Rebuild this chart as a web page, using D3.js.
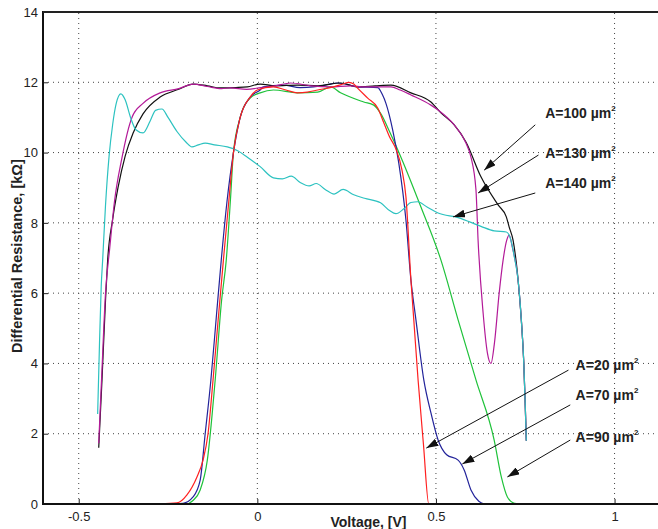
<!DOCTYPE html>
<html>
<head>
<meta charset="utf-8">
<script src="https://cdn.jsdelivr.net/npm/d3@7"></script>
<style>
  body { margin: 0; background: #fff; }
  svg text { font-family: "Liberation Sans", Arial, Helvetica, sans-serif; }
</style>
</head>
<body>
<div id="chartcanvas"></div>
<script>
// ******** DATA (voltage [V], differential resistance [kOhm]) */
const xTicks = [-0.5, 0, 0.5, 1]
const yTicks = [0, 2, 4, 6, 8, 10, 12, 14]

const a100 = [[-0.444,1.6],[-0.435,3.5],[-0.425,5.8],[-0.419,6.94],[-0.405,8.1],[-0.39,9.0],[-0.37,9.9],[-0.348,10.55],[-0.32,11.1],[-0.272,11.58],[-0.22,11.8],[-0.18,11.95],[-0.14,11.9],[-0.104,11.84],[-0.06,11.85],[-0.028,11.87],[0.008,11.95],[0.05,11.9],[0.112,11.92],[0.17,11.9],[0.233,11.98],[0.28,11.87],[0.33,11.9],[0.374,11.92],[0.43,11.7],[0.486,11.44],[0.514,11.13],[0.55,10.8],[0.584,10.3],[0.626,9.31],[0.674,8.51],[0.697,8.17],[0.705,7.88],[0.716,7.5],[0.73,6.37],[0.739,5.24],[0.746,4.0],[0.75,2.8],[0.753,1.8]]

const a130 = [[-0.444,1.73],[-0.435,3.8],[-0.425,6.0],[-0.413,7.3],[-0.4,8.6],[-0.38,9.8],[-0.351,11.0],[-0.32,11.4],[-0.272,11.7],[-0.22,11.82],[-0.18,11.95],[-0.14,11.88],[-0.1,11.82],[-0.076,11.84],[-0.03,11.8],[0.01,11.85],[0.05,11.9],[0.093,11.98],[0.15,11.9],[0.205,11.87],[0.26,11.9],[0.3,11.87],[0.374,11.87],[0.4,11.78],[0.43,11.64],[0.486,11.35],[0.506,11.21],[0.55,10.8],[0.584,10.27],[0.598,9.87],[0.612,8.94],[0.618,7.5],[0.632,5.44],[0.644,4.3],[0.654,4.0],[0.664,4.6],[0.677,6.0],[0.688,6.94],[0.698,7.5],[0.705,7.65],[0.714,7.3],[0.73,6.37],[0.739,5.24],[0.746,4.0],[0.75,2.8],[0.753,1.8]]

const a140 = [[-0.447,2.56],[-0.442,4.5],[-0.437,6.2],[-0.433,6.94],[-0.425,8.5],[-0.415,9.9],[-0.405,10.8],[-0.395,11.4],[-0.382,11.67],[-0.37,11.5],[-0.355,11.0],[-0.34,10.65],[-0.32,10.56],[-0.3,10.9],[-0.285,11.2],[-0.267,11.24],[-0.25,11.0],[-0.225,10.6],[-0.2,10.3],[-0.183,10.16],[-0.165,10.22],[-0.146,10.27],[-0.12,10.22],[-0.084,10.16],[-0.055,10.05],[-0.028,9.87],[0.008,9.6],[0.045,9.28],[0.07,9.25],[0.095,9.33],[0.12,9.15],[0.145,9.05],[0.165,9.12],[0.19,8.95],[0.215,8.82],[0.24,8.95],[0.27,8.8],[0.3,8.7],[0.345,8.57],[0.37,8.35],[0.388,8.26],[0.41,8.4],[0.43,8.58],[0.449,8.6],[0.475,8.45],[0.506,8.28],[0.562,8.15],[0.626,7.9],[0.663,7.77],[0.697,7.74],[0.71,7.5],[0.72,7.0],[0.73,6.37],[0.739,5.24],[0.746,4.0],[0.75,2.8],[0.753,1.8]]

const a20 = [[-0.272,0],[-0.225,0.03],[-0.197,0.26],[-0.169,0.77],[-0.152,1.25],[-0.138,2.0],[-0.124,3.53],[-0.11,5.2],[-0.095,6.94],[-0.08,8.6],[-0.067,9.99],[-0.048,11.0],[-0.02,11.58],[0.0,11.78],[0.045,11.87],[0.08,11.78],[0.112,11.7],[0.14,11.72],[0.169,11.78],[0.213,11.87],[0.24,11.95],[0.256,12.0],[0.27,11.95],[0.28,11.84],[0.309,11.55],[0.337,11.27],[0.354,10.85],[0.37,10.45],[0.388,10.1],[0.405,9.5],[0.416,8.74],[0.43,6.37],[0.438,5.24],[0.45,3.53],[0.465,1.7],[0.48,0],[0.75,0]]

const a70 = [[-0.27,0],[-0.208,0.02],[-0.18,0.2],[-0.16,0.68],[-0.146,2.0],[-0.13,3.53],[-0.115,5.3],[-0.101,6.94],[-0.085,8.6],[-0.067,9.99],[-0.048,11.0],[-0.02,11.58],[0.008,11.78],[0.017,11.87],[0.073,11.92],[0.12,11.85],[0.157,11.87],[0.19,11.92],[0.225,11.98],[0.281,11.87],[0.337,11.85],[0.35,11.65],[0.36,11.4],[0.379,10.64],[0.396,9.7],[0.416,8.08],[0.43,6.37],[0.444,5.24],[0.466,3.53],[0.486,2.59],[0.506,1.82],[0.53,1.4],[0.562,1.25],[0.579,0.97],[0.598,0.4],[0.62,0.08],[0.635,0]]

const a90 = [[-0.444,0],[-0.2,0],[-0.18,0.1],[-0.16,0.4],[-0.14,1.25],[-0.118,3.53],[-0.1,5.8],[-0.087,6.94],[-0.075,8.7],[-0.067,9.99],[-0.048,11.0],[-0.02,11.55],[0.008,11.7],[0.045,11.78],[0.112,11.7],[0.169,11.72],[0.205,11.87],[0.233,11.7],[0.298,11.44],[0.326,11.35],[0.346,11.1],[0.37,10.6],[0.402,9.87],[0.458,8.45],[0.514,6.94],[0.562,5.24],[0.612,3.53],[0.663,1.82],[0.683,0.77],[0.70,0.2],[0.72,0.02],[0.75,0]]

// label: text, [x,y] of text start, arrow tail, arrow tip (all in data units)
const labelNames = ['A=100', 'A=130', 'A=140', 'A=20', 'A=70', 'A=90']
const labelPos = [[0.806,11.13],[0.806,9.99],[0.806,9.13],[0.891,3.96],[0.891,3.10],[0.891,1.91]]
const arrowTail = [[0.778,10.79],[0.787,9.93],[0.778,8.85],[0.871,3.81],[0.876,2.82],[0.876,1.82]]
const arrowTip = [[0.635,9.5],[0.618,8.85],[0.548,8.17],[0.473,1.59],[0.574,1.14],[0.700,0.77]]

const chart_svg = (function() {

    const dim = { width: 658, height: 529, left: 43, top: 12, bottom: 504, right: 686 }

    const svg = d3.select("#chartcanvas")
        .append("svg")
        .attr("width", dim.width)
        .attr("height", dim.height)

    const x = d3.scaleLinear().domain([-0.6, 1.2]).range([dim.left, dim.right])
    const y = d3.scaleLinear().domain([0, 14]).range([dim.bottom, dim.top])

    //******* GRID */
    const grid_g = svg.append("g").attr("class", "grid")
    grid_g.selectAll("line.gx").data(xTicks).join("line")
        .attr("class", "gx")
        .attr("x1", d => x(d)).attr("x2", d => x(d))
        .attr("y1", y(0)).attr("y2", y(14))
        .attr("stroke", "#444").attr("stroke-width", 1)
        .attr("stroke-dasharray", "1,4")
    grid_g.selectAll("line.gy").data(yTicks.slice(1, -1)).join("line")
        .attr("class", "gy")
        .attr("x1", x(-0.6)).attr("x2", x(1.2))
        .attr("y1", d => y(d)).attr("y2", d => y(d))
        .attr("stroke", "#444").attr("stroke-width", 1)
        .attr("stroke-dasharray", "1,4")

    //******** AXIS */
    const axis_y = svg.append("g")
        .attr("transform", "translate(" + dim.left + ",0)")
        .call(d3.axisLeft(y).tickValues(yTicks).tickSize(-5).tickPadding(5).tickFormat(d3.format("d")))
    const axis_x = svg.append("g")
        .attr("transform", "translate(0," + dim.bottom + ")")
        .call(d3.axisBottom(x).tickValues(xTicks).tickSize(-5).tickPadding(8).tickFormat(d => d === 0 ? "0" : String(d)))
    ;[axis_y, axis_x].forEach(a => {
        a.select(".domain").remove()
        a.selectAll(".tick line").attr("stroke", "#222")
        a.selectAll("text").attr("font-size", 13).attr("fill", "#222")
    })

    //******** CURVES */
    const line = d3.line()
        .x(d => x(d[0]))
        .y(d => y(d[1]))
        .curve(d3.curveMonotoneX)

    const series = [
        { data: a90, color: "#1fc23a" },
        { data: a70, color: "#22239a" },
        { data: a100, color: "#111111" },
        { data: a130, color: "#b31a98" },
        { data: a140, color: "#2cc2c0" },
        { data: a20, color: "#ff2020" }
    ]
    const lines_g = svg.append("g").attr("class", "lines_g")
    lines_g.selectAll("path").data(series).join("path")
        .attr("d", d => line(d.data))
        .attr("fill", "none")
        .attr("stroke", d => d.color)
        .attr("stroke-width", 1.2)

    //******** BORDERS */
    const borders_g = svg.append("g").attr("class", "borders_g")
    borders_g.append("line")
        .attr("x1", x(-0.6)).attr("x2", x(-0.6)).attr("y1", y(14) - 1).attr("y2", y(0) + 1)
        .attr("stroke", "#111").attr("stroke-width", 2)
    borders_g.append("line")
        .attr("x1", x(-0.6)).attr("x2", x(1.2)).attr("y1", y(0)).attr("y2", y(0))
        .attr("stroke", "#111").attr("stroke-width", 2)
    borders_g.append("line")
        .attr("x1", x(-0.6)).attr("x2", x(1.2)).attr("y1", y(14)).attr("y2", y(14))
        .attr("stroke", "#222").attr("stroke-width", 2)

    //******** ANNOTATIONS */
    svg.append("defs").append("marker")
        .attr("id", "arrowhead")
        .attr("viewBox", "0 0 12 8")
        .attr("refX", 12).attr("refY", 4)
        .attr("markerWidth", 12).attr("markerHeight", 8)
        .attr("markerUnits", "userSpaceOnUse")
        .attr("orient", "auto")
        .append("path")
        .attr("d", "M0,0 L12,4 L0,8 Z")
        .attr("fill", "#111")

    const notes_g = svg.append("g").attr("class", "notes_g")
    labelNames.forEach((name, i) => {
        notes_g.append("line")
            .attr("x1", x(arrowTail[i][0])).attr("y1", y(arrowTail[i][1]))
            .attr("x2", x(arrowTip[i][0])).attr("y2", y(arrowTip[i][1]))
            .attr("stroke", "#111").attr("stroke-width", 1)
            .attr("marker-end", "url(#arrowhead)")
        const t = notes_g.append("text")
            .attr("x", x(labelPos[i][0]))
            .attr("y", y(labelPos[i][1]) + 5)
            .attr("font-size", 14).attr("font-weight", "bold").attr("fill", "#222")
        t.append("tspan").text(name + " \u00b5m")
        t.append("tspan").attr("dy", -7).attr("font-size", 8).text("2")
    })

    //** labels */
    svg.append("text")
        .attr("x", (x(-0.6) + x(1.2)) / 2 + 4)
        .attr("y", 527)
        .attr("text-anchor", "middle")
        .attr("font-size", 14).attr("font-weight", "bold").attr("fill", "#222")
        .text("Voltage, [V]")
    svg.append("text")
        .attr("transform", "translate(22,353) rotate(-90)")
        .attr("font-size", 14.5).attr("font-weight", "bold").attr("fill", "#222")
        .text("Differential Resistance, [k\u03a9]")

    return { svg, x, y }
})();
</script>
</body>
</html>
